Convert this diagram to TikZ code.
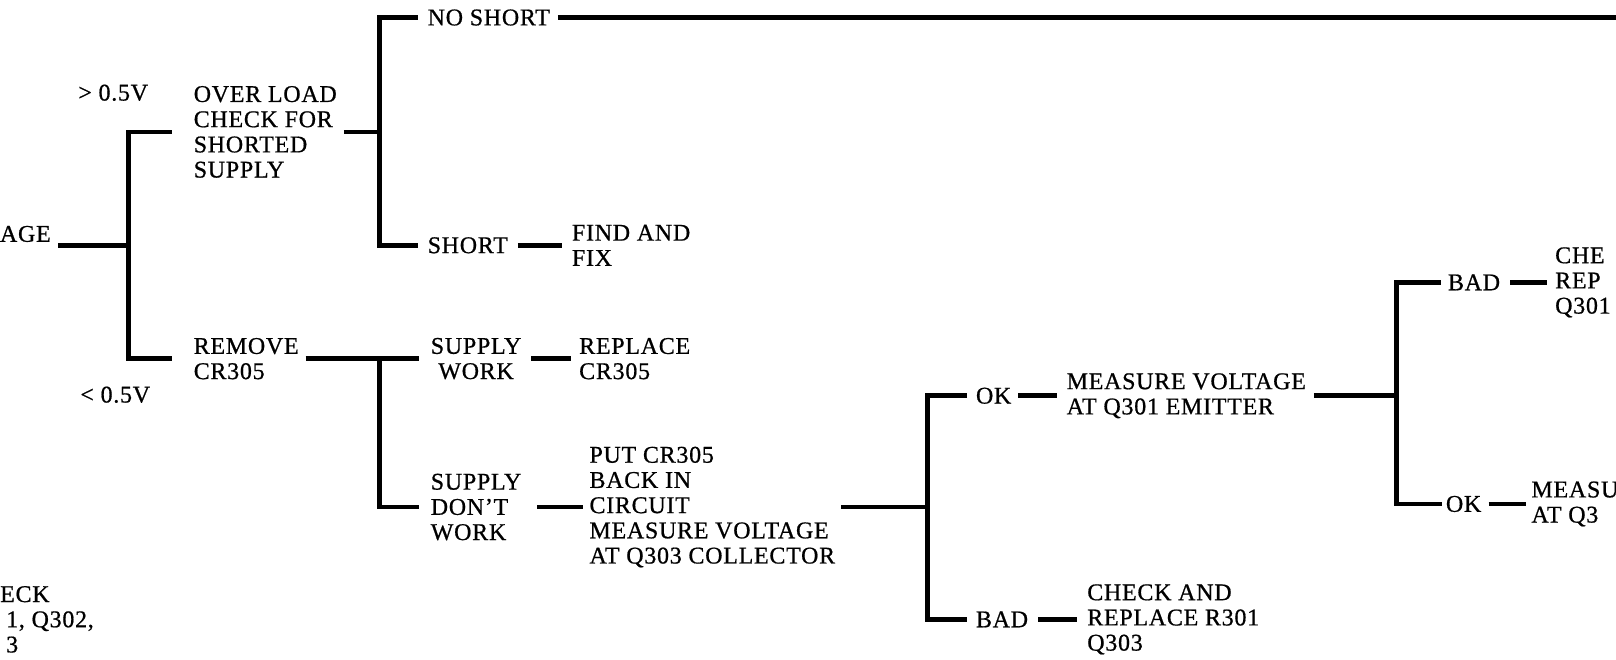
\documentclass[tikz,border=0pt]{standalone}
\usepackage{fontspec}
\setmainfont[LetterSpace=3,FakeBold=0.7]{Liberation Serif}
\begin{document}
\begin{tikzpicture}[x=0.5153pt,y=-0.5153pt,
  conn/.style={line width=2.4pt},
  txt/.style={font=\fontsize{12}{12.6}\selectfont, align=left, inner sep=0pt, outer sep=0pt, anchor=west}]
\useasboundingbox (0,0) rectangle (1568,640);
% nodes
\node[txt] (age) at (0,227) {AGE};
\node[txt] (gt) at (76,90) {> 0.5V};
\node[txt] (lt) at (78,383) {< 0.5V};
\node[txt] (over) at (188,128) {OVER LOAD\\CHECK FOR\\SHORTED\\SUPPLY};
\node[txt] (rem) at (188,348) {REMOVE\\CR305};
\node[txt] (nos) at (415,17) {NO SHORT};
\node[txt] (sho) at (415,238) {SHORT};
\node[txt] (fix) at (555,238) {FIND AND\\FIX};
\node[txt, align=center] (sw) at (418,348) {SUPPLY\\WORK};
\node[txt] (rep) at (562,348) {REPLACE\\CR305};
\node[txt] (sdw) at (418,492) {SUPPLY\\DON'T\\WORK};
\node[txt] (put) at (572,492) {PUT CR305\\BACK IN\\CIRCUIT\\MEASURE VOLTAGE\\AT Q303 COLLECTOR};
\node[txt] (ok1) at (947,384) {OK};
\node[txt] (mve) at (1035,384) {MEASURE VOLTAGE\\AT Q301 EMITTER};
\node[txt] (bad1) at (947,601) {BAD};
\node[txt] (chk1) at (1055,601) {CHECK AND\\REPLACE R301\\Q303};
\node[txt] (bad2) at (1405,274) {BAD};
\node[txt] (chk2) at (1509,274) {CHE\\REP\\Q301};
\node[txt] (ok2) at (1403,489) {OK};
\node[txt] (mea) at (1486,489) {MEASU\\AT Q3};
\node[txt] (eck) at (6,601) {\hspace*{-3pt}ECK\\1, Q302,\\3};
% junctions
\coordinate (j1) at (125,238);
\coordinate (j2) at (368,128);
\coordinate (j3) at (368,348);
\coordinate (j4) at (900,492);
\coordinate (j5) at (1355,384);
\coordinate (rim) at (1572,17);
% connectors
\draw[conn, shorten >=3.5pt] (j1) -- (age.east |- j1);
\draw[conn, shorten <=11pt, shorten >=11pt] (over.west) -| (j1) |- (rem.west);
\draw[conn, shorten <=3.5pt] (over.east) -- (j2);
\draw[conn, shorten <=5pt, shorten >=5pt] (nos.west) -| (j2) |- (sho.west);
\draw[conn, shorten <=4pt] (nos.east) -- (nos.east -| rim);
\draw[conn, shorten <=5pt, shorten >=5pt] (sho.east) -- (fix.west);
\draw[conn, shorten <=3.5pt, shorten >=6pt] (rem.east) -- (sw.west);
\draw[conn, shorten >=6pt] (j3) |- (sdw.west);
\draw[conn, shorten <=5pt, shorten >=4pt] (sw.east) -- (rep.west);
\draw[conn, shorten <=8pt, shorten >=3.5pt] (sdw.east) -- (put.west);
\draw[conn, shorten <=3pt] (put.east) -- (j4);
\draw[conn, shorten <=4.5pt, shorten >=4.5pt] (ok1.west) -| (j4) |- (bad1.west);
\draw[conn, shorten <=3.5pt, shorten >=5pt] (ok1.east) -- (mve.west);
\draw[conn, shorten <=5pt, shorten >=5pt] (bad1.east) -- (chk1.west);
\draw[conn, shorten <=4pt] (mve.east) -- (j5);
\draw[conn, shorten <=3.6pt, shorten >=2pt] (bad2.west) -| (j5) |- (ok2.west);
\draw[conn, shorten <=5pt, shorten >=4pt] (bad2.east) -- (chk2.west);
\draw[conn, shorten <=3.6pt, shorten >=3pt] (ok2.east) -- (mea.west);
\end{tikzpicture}
\end{document}
